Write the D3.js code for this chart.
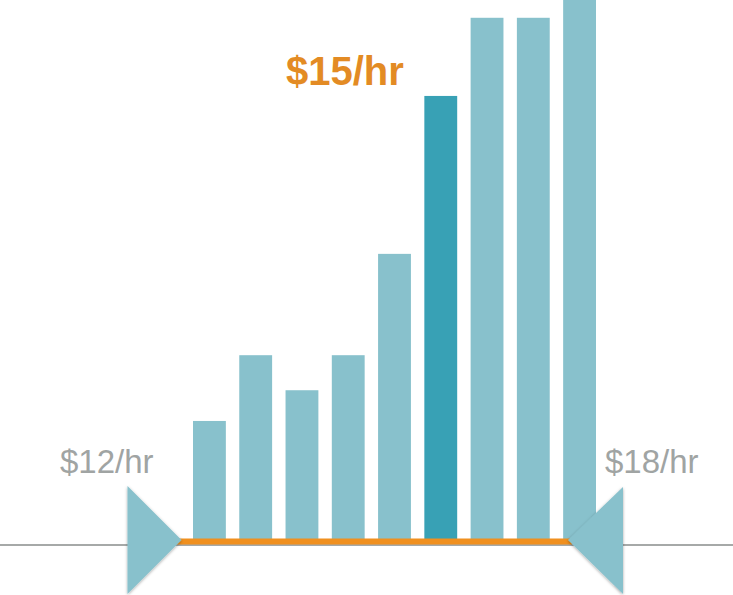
<!DOCTYPE html>
<html><head><meta charset="utf-8">
<script src="https://cdn.jsdelivr.net/npm/d3@7"></script>
<style>body{margin:0;background:#fff}svg{display:block}</style>
</head><body>
<script>
const categories = ["b1","b2","b3","b4","b5","b6","b7","b8","b9"];
const values = [21.9, 34.1, 27.6, 34.1, 52.9, 82.2, 96.7, 96.7, 102];
const highlight = "b6";
const labels = {low:"$12/hr", mid:"$15/hr", high:"$18/hr"};

const W=733,H=595;
const svg=d3.select("body").append("svg").attr("width",W).attr("height",H);
const defs=svg.append("defs");
const f=defs.append("filter").attr("id","sh").attr("x","-50%").attr("y","-50%").attr("width","200%").attr("height","200%");
f.append("feDropShadow").attr("dx",0).attr("dy",1).attr("stdDeviation",1.5).attr("flood-color","#000").attr("flood-opacity",0.35);

const base=539;
const x=d3.scaleBand().domain(categories).range([193,596]).paddingInner(0.29).paddingOuter(0);
const y=d3.scaleLinear().domain([0,100]).range([base,0]);

// gray baseline
svg.append("line").attr("x1",0).attr("x2",W).attr("y1",545).attr("y2",545).attr("stroke","#a6a9a8").attr("stroke-width",2);

svg.selectAll("rect.bar").data(categories).join("rect").attr("class","bar")
  .attr("x",d=>x(d)).attr("width",x.bandwidth())
  .attr("y",(d,i)=>y(values[i])).attr("height",(d,i)=>base-y(values[i]))
  .attr("fill",d=>d===highlight?"#38a1b5":"#88c1cc");

// orange range line
svg.append("rect").attr("x",176).attr("y",538.5).attr("width",396).attr("height",6).attr("fill","#f0901f");

// triangles
svg.append("path").attr("d","M127.5,486 L181.5,540 L127.5,594 Z").attr("fill","#88c1cc").attr("filter","url(#sh)");
svg.append("path").attr("d","M623,487 L568,540 L623,594 Z").attr("fill","#88c1cc").attr("filter","url(#sh)");

svg.append("text").attr("x",60).attr("y",473).text(labels.low)
  .attr("font-family","Liberation Sans, Arial, sans-serif").attr("font-size",33).attr("fill","#a0a4a3");
svg.append("text").attr("x",605).attr("y",473).text(labels.high)
  .attr("font-family","Liberation Sans, Arial, sans-serif").attr("font-size",33).attr("fill","#a0a4a3");
svg.append("text").attr("x",286).attr("y",85).text(labels.mid)
  .attr("font-family","Liberation Sans, Arial, sans-serif").attr("font-size",40).attr("font-weight","bold").attr("fill","#e38b24");
</script>
</body></html>
